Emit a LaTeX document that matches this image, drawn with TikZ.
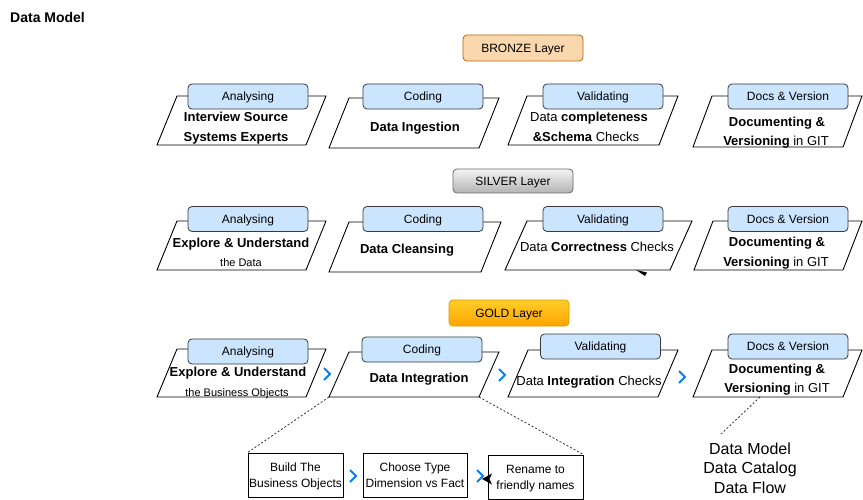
\documentclass[tikz,border=0pt]{standalone}
\usepackage{fontspec}
\setmainfont{Liberation Sans}
\definecolor{lblfill}{HTML}{CCE5FF}
\definecolor{lbldraw}{HTML}{36393D}
\definecolor{bronzefill}{HTML}{FAD7AC}
\definecolor{bronzedraw}{HTML}{B46504}
\definecolor{goldtop}{HTML}{FFCD28}
\definecolor{goldbot}{HTML}{FFA500}
\definecolor{golddraw}{HTML}{D79B00}
\definecolor{silvtop}{HTML}{F5F5F5}
\definecolor{silvbot}{HTML}{B3B3B3}
\definecolor{silvdraw}{HTML}{666666}
\definecolor{chev}{HTML}{007FFF}
\newcommand{\pgram}[6]{%
  \draw[pg] (#2,#3) -- (#4,#3) -- (#4-#6,#5) -- (#2-#6,#5) -- cycle;
  \coordinate (#1-tl) at (#2,#3); \coordinate (#1-tr) at (#4,#3);
  \coordinate (#1-br) at (#4-#6,#5); \coordinate (#1-bl) at (#2-#6,#5);}
\newcommand{\chevron}[2]{%
  \draw[chevstyle] (#1-3,#2-6) -- (#1+3,#2) -- (#1-3,#2+6);}
\tikzset{
  pg/.style={draw=black, line width=0.9pt, fill=white},
  lbl/.style={draw=lbldraw, fill=lblfill, rounded corners=4pt, minimum width=120pt,
    minimum height=25pt, inner sep=0pt, line width=0.8pt, text depth=0pt,
    font=\fontsize{12}{14}\selectfont},
  layer/.style={rounded corners=4pt, minimum width=120pt, minimum height=25pt,
    inner sep=0pt, line width=0.8pt, text depth=0pt, font=\fontsize{12}{14}\selectfont},
  main/.style={inner sep=0pt, text depth=0pt, font=\fontsize{13}{16}\selectfont},
  sub/.style={inner sep=0pt, text depth=0pt, font=\fontsize{11}{13}\selectfont},
  stepbox/.style={draw=black, line width=0.9pt, fill=white, inner sep=0pt, align=center,
    minimum height=44pt, text depth=0pt, font=\fontsize{12}{16}\selectfont},
  chevstyle/.style={draw=chev, line width=2pt},
  dots/.style={draw=black!80, line width=0.8pt, dash pattern=on 2pt off 2pt},
}
\begin{document}
\begin{tikzpicture}[x=1pt,y=-1pt]
\useasboundingbox (0,0) rectangle (863,500);
\fill[white] (0,0) rectangle (863,500);

\node[anchor=west, inner sep=0pt, font=\fontsize{14}{16}\selectfont\bfseries] (title) at (10,17) {Data Model};

% layer labels
\node[layer, draw=bronzedraw, fill=bronzefill, minimum height=26pt] (bronze) at (523,48) {BRONZE Layer};
\node[layer, draw=silvdraw, top color=silvtop, bottom color=silvbot, minimum height=24pt] (silver) at (513,181) {SILVER Layer};
\node[layer, draw=golddraw, top color=goldtop, bottom color=goldbot, minimum height=26pt] (gold) at (509,313) {GOLD Layer};

% ---------------- BRONZE row
\pgram{b1}{177}{96}{326}{145}{20}
\pgram{b2}{349}{98}{499}{148}{20}
\pgram{b3}{527}{96}{678}{145}{19}
\pgram{b4}{712}{96}{862}{147}{19}
\node[lbl] (b1l) at (248,96.5) {Analysing};
\node[lbl] (b2l) at (423,96.5) {Coding};
\node[lbl] (b3l) at (603,96.5) {Validating};
\node[lbl] (b4l) at (788,96.5) {Docs \& Version};
\node[main] (b1t1) at (236,117) {\bfseries Interview Source};
\node[main] (b1t2) at (236,137) {\bfseries Systems Experts};
\node[main] (b2t) at (415,127) {\bfseries Data Ingestion};
\node[main] (b3t1) at (589,117) {Data \textbf{completeness}};
\node[main] (b3t2) at (586,137) {\textbf{\&Schema} Checks};
\node[main] (b4t1) at (777,122) {\bfseries Documenting \&};
\node[main] (b4t2) at (776,141) {\textbf{Versioning} in GIT};

% ---------------- SILVER row
\pgram{s1}{177}{221}{326}{270}{20}
\pgram{s2}{349}{222}{501}{272}{20}
\pgram{s3}{527}{221}{692}{270}{22}
\pgram{s4}{713}{221}{862}{270}{19}
\node[lbl] (s1l) at (248,219) {Analysing};
\node[lbl] (s2l) at (423,219) {Coding};
\node[lbl] (s3l) at (603,219) {Validating};
\node[lbl] (s4l) at (788,219) {Docs \& Version};
\node[main] (s1t1) at (241,243) {\bfseries Explore \& Understand};
\node[sub] (s1t2) at (241,263) {the Data};
\node[main] (s2t) at (407,249) {\bfseries Data Cleansing};
\node[main] (s3t) at (597,247) {Data \textbf{Correctness} Checks};
\node[main] (s4t1) at (777,242) {\bfseries Documenting \&};
\node[main] (s4t2) at (776,262) {\textbf{Versioning} in GIT};
\fill[black] (636,270) -- (647,272.5) -- (645,276) -- cycle;

% ---------------- GOLD row
\pgram{g1}{177}{349}{326}{397}{20}
\pgram{g2}{349}{352}{499}{397}{20}
\pgram{g3}{528}{350}{678}{397}{20}
\pgram{g4}{712}{350}{862}{397}{19}
\node[lbl] (g1l) at (248,351.5) {Analysing};
\node[lbl] (g2l) at (422,349.5) {Coding};
\node[lbl] (g3l) at (600.5,346.5) {Validating};
\node[lbl] (g4l) at (788,346.5) {Docs \& Version};
\node[main] (g1t1) at (238,372) {\bfseries Explore \& Understand};
\node[sub] (g1t2) at (237,393) {the Business Objects};
\node[main] (g2t) at (419,378) {\bfseries Data Integration};
\node[main] (g3t) at (589,381) {Data \textbf{Integration} Checks};
\node[main] (g4t1) at (777,369) {\bfseries Documenting \&};
\node[main] (g4t2) at (777,388) {\textbf{Versioning} in GIT};
\chevron{327}{374}
\chevron{502}{375}
\chevron{682}{377}

% ---------------- detail boxes
\node[stepbox, minimum width=95pt] (d1) at (295.5,475) {Build The\\Business Objects};
\node[stepbox, minimum width=104pt] (d2) at (415,475) {Choose Type\\Dimension vs Fact};
\node[stepbox, minimum width=95pt] (d3) at (535.5,477) {Rename to\\friendly names};
\chevron{353}{476}
\chevron{480}{476}
\fill[black] (482,479) -- (492,473.5) -- (489.5,479) -- (492,484.5) -- cycle;

\draw[dots] (g2-bl) -- (d1.north west);
\draw[dots] (g2-br) -- (d3.north east);

% ---------------- docs output
\node[inner sep=0pt, align=center, font=\fontsize{16}{19.5}\selectfont] (out) at (750,468) {Data Model\\Data Catalog\\Data Flow};
\coordinate (g4-db) at (760,397);
\coordinate (out-end) at (720,435);
\draw[dots] (g4-db) -- (out-end);
\end{tikzpicture}
\end{document}
